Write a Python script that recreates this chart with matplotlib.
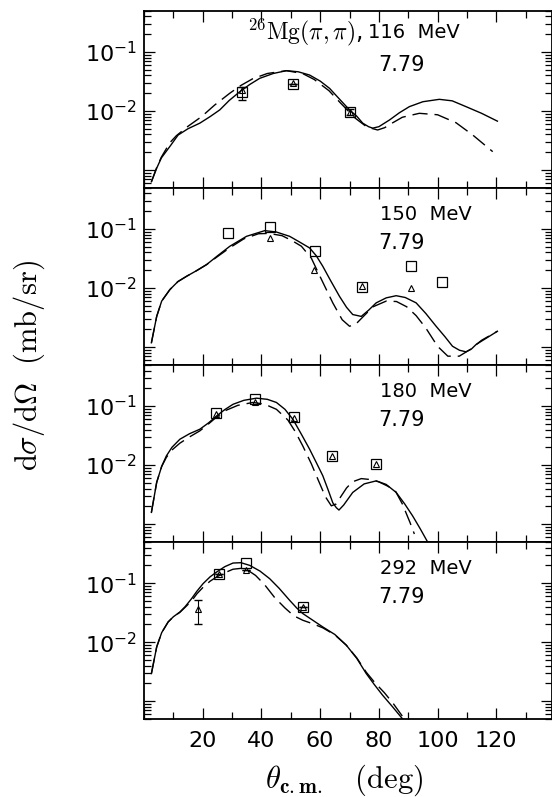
import matplotlib
matplotlib.use("Agg")
import matplotlib.pyplot as plt
from matplotlib.ticker import LogLocator, MultipleLocator, FuncFormatter, NullFormatter

# ---- 116 MeV ----
x116_full = [2.5, 4.3, 5.9, 8.8, 11.6, 15, 19, 22.5, 25.8, 29, 32.6, 36, 39.4, 44, 48.5, 52.5,
             56.4, 60, 63.2, 66.5, 70, 72.5, 74.5, 76.5, 77.9, 80, 83.6, 87, 90.4, 95, 100.6,
             105, 109.7, 115, 120.4]
y116_full = [6.3e-4, 1.07e-3, 1.6e-3, 2.5e-3, 3.9e-3, 5.0e-3, 6.2e-3, 8.0e-3, 0.0104, 0.015,
             0.0211, 0.028, 0.0356, 0.043, 0.048, 0.046, 0.0405, 0.032, 0.0241, 0.016, 0.0104,
             0.0081, 0.0062, 0.0054, 0.0051, 0.0054, 0.0070, 0.0093, 0.0118, 0.0143, 0.0157,
             0.0148, 0.0118, 0.0091, 0.0067]
x116_dash = [2.5, 4.3, 5.9, 8.8, 11, 15, 19.6, 24, 29.2, 33, 37, 42, 48.5, 54, 58, 63, 67, 72,
             76, 79.6, 82, 84.5, 88, 93.8, 100, 106.3, 112, 118.8]
y116_dash = [6.3e-4, 1.1e-3, 1.65e-3, 2.9e-3, 3.8e-3, 5.5e-3, 8.0e-3, 0.0125, 0.0199, 0.027,
             0.035, 0.043, 0.048, 0.043, 0.034, 0.022, 0.0135, 0.0075, 0.0053, 0.00475, 0.0052,
             0.0062, 0.0078, 0.0091, 0.0086, 0.0063, 0.0039, 0.00204]
x116_sq = [33.2, 50.7, 70.0]
y116_sq = [0.021, 0.029, 0.0097]
e116_sq = [[0.0057, 0.0, 0.0012], [0.004, 0.0, 0.0012]]
x116_tri = [33.2, 50.7, 70.0]
y116_tri = [0.023, 0.030, 0.0095]

# ---- 150 MeV ----
x150_full = [2.5, 4.3, 6, 8.8, 11.5, 14.5, 18, 21.3, 25, 29.2, 34.9, 41.1, 45, 49.6, 53, 56.4,
             58.7, 60.9, 63.5, 66.6, 69, 71.1, 74, 76.5, 79.1, 82.5, 85.9, 89, 92.7, 96, 99.5,
             102.5, 105.1, 107.5, 109.7, 111.5, 113.1, 116.5, 120.4]
y150_full = [1.18e-3, 3.3e-3, 6e-3, 9.4e-3, 0.0128, 0.0158, 0.0198, 0.0249, 0.035, 0.0508,
             0.075, 0.0936, 0.089, 0.075, 0.06, 0.0477, 0.035, 0.0233, 0.0135, 0.0072, 0.0047,
             0.00355, 0.0033, 0.0042, 0.0056, 0.0068, 0.0074, 0.0069, 0.0056, 0.0037, 0.00225,
             0.0015, 0.00103, 0.00088, 0.00083, 0.00092, 0.0011, 0.0014, 0.00185]
x150_dash = [2.5, 4.3, 6, 8.8, 11.5, 14.5, 18, 21.3, 25, 29.2, 34, 39, 42.5, 47, 50.5, 53.6,
             57, 60, 64.3, 67.5, 70, 72, 75, 78, 82.5, 86, 89.5, 92.7, 96, 100, 103.5, 107.4,
             111, 115, 120.4]
y150_dash = [1.18e-3, 3.3e-3, 6e-3, 9.4e-3, 0.0128, 0.0158, 0.0198, 0.0249, 0.034, 0.048,
             0.068, 0.083, 0.084, 0.077, 0.063, 0.051, 0.032, 0.0155, 0.0056, 0.0029, 0.00225,
             0.0024, 0.0034, 0.0048, 0.006, 0.0059, 0.0048, 0.0034, 0.0021, 0.00103, 0.0007,
             0.0007, 0.0009, 0.0013, 0.00185]
x150_sq = [28.6, 42.8, 58.1, 74.3, 91.0, 101.4]
y150_sq = [0.0856, 0.108, 0.043, 0.0104, 0.0239, 0.0127]
x150_tri = [42.8, 57.8, 74.3, 91.0]
y150_tri = [0.0705, 0.0205, 0.0107, 0.0100]

# ---- 180 MeV ----
x180_full = [2.5, 4.3, 6, 7.6, 9.5, 12.2, 15.5, 19, 22, 24.7, 27.5, 30.3, 34, 38.3, 42, 45.1,
             48, 50.7, 53.5, 56.4, 58.7, 60.9, 62.8, 64.3, 65.5, 66.4, 68, 71.1, 75, 79.1,
             82.5, 85.9, 88.8, 91.5, 94, 96.6]
y180_full = [1.58e-3, 5.1e-3, 9.5e-3, 0.0143, 0.02, 0.0274, 0.034, 0.0405, 0.052, 0.068,
             0.087, 0.107, 0.125, 0.136, 0.13, 0.115, 0.088, 0.0598, 0.034, 0.0186, 0.011,
             0.0066, 0.0037, 0.0023, 0.0019, 0.00173, 0.0021, 0.00344, 0.0048, 0.0054, 0.0047,
             0.00344, 0.0022, 0.00138, 0.00085, 0.0005]
x180_dash = [2.5, 4.3, 6, 7.6, 9.5, 12.2, 15.5, 19, 22, 24.7, 28, 32, 37.1, 41, 45.1, 49,
             51.5, 54.1, 57, 59.6, 61.8, 63.8, 65.5, 67, 69, 71, 74, 77, 80, 83, 85.6, 88,
             90.6, 92.1]
y180_dash = [1.58e-3, 5.1e-3, 9.5e-3, 0.0135, 0.018, 0.0235, 0.03, 0.038, 0.05, 0.065, 0.085,
             0.103, 0.115, 0.108, 0.088, 0.058, 0.037, 0.021, 0.0105, 0.0052, 0.0029, 0.00204,
             0.0022, 0.0029, 0.0041, 0.0052, 0.0059, 0.0057, 0.0052, 0.0044, 0.00366, 0.0022,
             0.00107, 0.00068]
x180_sq = [24.4, 37.7, 51.0, 64.1, 79.1]
y180_sq = [0.0756, 0.134, 0.064, 0.0143, 0.0106]
x180_tri = [24.4, 37.7, 51.0, 64.1, 79.1]
y180_tri = [0.074, 0.115, 0.062, 0.0140, 0.0104]

# ---- 292 MeV ----
x292_full = [2.5, 4.3, 6, 8.2, 10, 12.2, 14, 16.2, 18, 20.1, 22.5, 24.7, 27.5, 30.3, 33, 36,
             39.5, 42.8, 46, 49.6, 52, 54.1, 57.5, 60.9, 65, 68.9, 72.5, 75.7, 78.5, 81.3,
             84.7, 88.1]
y292_full = [2.94e-3, 8.3e-3, 0.0145, 0.022, 0.027, 0.0324, 0.04, 0.0547, 0.073, 0.098,
             0.128, 0.154, 0.19, 0.219, 0.222, 0.2, 0.16, 0.119, 0.082, 0.0512, 0.038, 0.0305,
             0.0235, 0.0181, 0.0135, 0.0089, 0.0053, 0.00294, 0.0019, 0.00126, 0.0008, 0.0005]
x292_dash = [2.5, 4.3, 6, 8.2, 10, 12.2, 14, 16.2, 18, 20.1, 22.5, 24.7, 27.5, 30.3, 33, 35.4,
             38, 41, 44.5, 48, 51, 54.1, 57.5, 60.9, 65, 68.9, 72.5, 75.7, 78.5, 81.9, 85, 88.1]
y292_dash = [2.94e-3, 8.3e-3, 0.0145, 0.022, 0.027, 0.032, 0.039, 0.05, 0.066, 0.085, 0.108,
             0.127, 0.15, 0.172, 0.178, 0.165, 0.135, 0.095, 0.057, 0.038, 0.028, 0.0235,
             0.0205, 0.0175, 0.0133, 0.0089, 0.0054, 0.0031, 0.0021, 0.00139, 0.0009, 0.00055]
x292_sq = [25.5, 34.9, 54.1]
y292_sq = [0.145, 0.219, 0.0395]
x292_tri = [18.4, 25.5, 34.9, 54.1]
y292_tri = [0.037, 0.143, 0.169, 0.0395]
e292_tri = [[0.0164, 0, 0, 0], [0.014, 0, 0, 0]]

panels = [
    (x116_full, y116_full, x116_dash, y116_dash, x116_sq, y116_sq, x116_tri, y116_tri, "116"),
    (x150_full, y150_full, x150_dash, y150_dash, x150_sq, y150_sq, x150_tri, y150_tri, "150"),
    (x180_full, y180_full, x180_dash, y180_dash, x180_sq, y180_sq, x180_tri, y180_tri, "180"),
    (x292_full, y292_full, x292_dash, y292_dash, x292_sq, y292_sq, x292_tri, y292_tri, "292"),
]
strength = "7.79"

fig = plt.figure(figsize=(5.52, 7.97), dpi=100)
left, width = 0.261, 0.739
h = 0.2222
bottoms = [0.7645, 0.5423, 0.3201, 0.0979]


def ytick_fmt(v, pos):
    if abs(v - 0.1) < 1e-6:
        return r"$10^{-1}$"
    if abs(v - 0.01) < 1e-7:
        return r"$10^{-2}$"
    return ""


def xtick_fmt(v, pos):
    return "" if v < 1 or v > 130 else "%d" % v


axes = []
for i, (xf, yf, xd, yd, xs, ys, xt, yt, energy) in enumerate(panels):
    ax = fig.add_axes([left, bottoms[i], width, h])
    axes.append(ax)
    ax.plot(xf, yf, color="black", lw=1.0)
    ax.plot(xd, yd, color="black", lw=1.0, dashes=(11, 5))
    ax.plot(xs, ys, "s", ms=7, mfc="none", mec="black", mew=0.9)
    ax.plot(xt, yt, "^", ms=5, mfc="none", mec="black", mew=0.8)

    ax.set_yscale("log")
    ax.set_xlim(0, 139)
    ax.set_ylim(5e-4, 0.5)
    ax.xaxis.set_major_locator(MultipleLocator(20))
    ax.xaxis.set_minor_locator(MultipleLocator(10))
    ax.xaxis.set_major_formatter(FuncFormatter(xtick_fmt))
    ax.yaxis.set_major_locator(LogLocator(base=10))
    ax.yaxis.set_minor_locator(LogLocator(base=10, subs=range(2, 10)))
    ax.yaxis.set_major_formatter(FuncFormatter(ytick_fmt))
    ax.yaxis.set_minor_formatter(NullFormatter())
    ax.tick_params(which="both", direction="in", top=True, right=True, width=0.9)
    ax.tick_params(which="major", length=8)
    ax.tick_params(which="minor", length=5)
    ax.tick_params(axis="y", labelsize=16, pad=5)
    ax.tick_params(axis="x", labelsize=16, pad=9)
    for sp in ax.spines.values():
        sp.set_linewidth(1.3)
    if i < 3:
        ax.set_xticklabels([])

    if i == 0:
        ax.text(0.252, 0.876, r"$^{26}\mathrm{Mg}(\pi,\pi)$,", transform=ax.transAxes,
                fontsize=17, va="center", ha="left", math_fontfamily="cm")
        ax.text(0.549, 0.876, energy + "  MeV", transform=ax.transAxes, fontsize=14,
                va="center", ha="left")
    else:
        ax.text(0.578, 0.85, energy + "  MeV", transform=ax.transAxes, fontsize=14,
                va="center", ha="left")
    ax.text(0.573, 0.69, strength, transform=ax.transAxes, fontsize=15,
            va="center", ha="left")

# error bars on a few points
axes[0].errorbar(x116_sq, y116_sq, yerr=e116_sq, fmt="none", ecolor="black",
                 elinewidth=0.8, capsize=3)
axes[3].errorbar(x292_tri, y292_tri, yerr=e292_tri, fmt="none", ecolor="black",
                 elinewidth=0.8, capsize=3)

fig.text(0.053, 0.542, r"$\mathrm{d}\sigma/\mathrm{d}\Omega\ \ (\mathrm{mb/sr})$",
         rotation=90, ha="center", va="center", fontsize=22, math_fontfamily="cm")
fig.text(0.623, 0.021, r"$\theta_{\mathbf{c.m.}}\quad(\mathrm{deg})$",
         ha="center", va="center", fontsize=22, math_fontfamily="cm")

fig.savefig("out.png", dpi=100)
